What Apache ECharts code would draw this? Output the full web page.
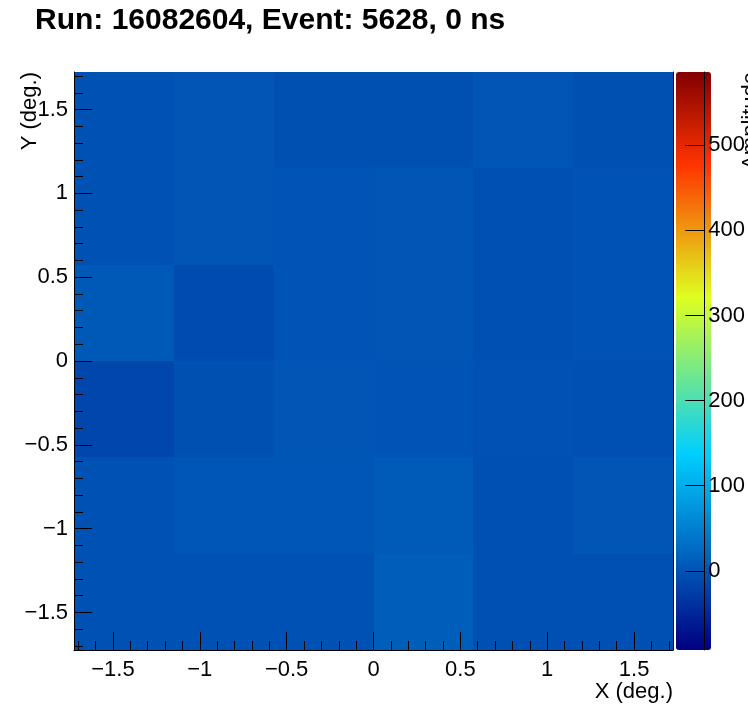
<!DOCTYPE html>
<html><head><meta charset="utf-8">
<script src="https://cdn.jsdelivr.net/npm/echarts@6/dist/echarts.min.js"></script>
<style>html,body{margin:0;padding:0;background:#fff}#c{width:748px;height:724px}</style>
</head><body><div id="c"></div>
<script>
// ---- data ----
const titleText = 'Run: 16082604, Event: 5628, 0 ns';
const xTitle = 'X (deg.)';
const yTitle = 'Y (deg.)';
const zTitle = 'Amplitude';
const xEdges = [-1.724, -1.149, -0.575, 0, 0.575, 1.149, 1.724];
const yEdgesTopDown = [1.724, 1.149, 0.575, 0, -0.575, -1.149, -1.724];
// amplitude per cell, rows from top (high Y) to bottom, columns from left (low X) to right
const amplitudeRows = [
  [-2, 2, -4, -4, 2, -4],
  [-2, 2, 1, 2, -5, 0],
  [5, -9, 1, 2, -5, 0],
  [-15, -4, 2, 1, -3, -5],
  [-2, 3, 3, 8, -5, 2],
  [-2, -2, -2, 12, -5, -5]
];
const xMajorTicks = [-1.5, -1, -0.5, 0, 0.5, 1, 1.5];
const yMajorTicks = [-1.5, -1, -0.5, 0, 0.5, 1, 1.5];
const minorTicks = [-1.7,-1.6,-1.4,-1.3,-1.2,-1.1,-0.9,-0.8,-0.7,-0.6,-0.4,-0.3,-0.2,-0.1,
  0.1,0.2,0.3,0.4,0.6,0.7,0.8,0.9,1.1,1.2,1.3,1.4,1.6,1.7];
const zTicks = [0, 100, 200, 300, 400, 500];
const zMin = -93, zMax = 586;

// ---- palette (ROOT-like jet) ----
const palStops = [0, 0.34, 0.61, 0.84, 1];
const palRGB = [[0,0,130],[0,207,255],[222,255,31],[255,51,0],[130,0,0]];
function palAt(t){
  for (let i = 0; i < palStops.length - 1; i++) {
    if (t <= palStops[i+1]) {
      const f = (t - palStops[i]) / (palStops[i+1] - palStops[i]);
      const c = palRGB[i].map((a, k) => Math.round(a + (palRGB[i+1][k] - a) * f));
      return 'rgb(' + c.join(',') + ')';
    }
  }
  return 'rgb(' + palRGB[palRGB.length-1].join(',') + ')';
}
const palette = [];
for (let i = 0; i <= 200; i++) palette.push(palAt(i / 200));

const cells = [];
amplitudeRows.forEach((row, i) => row.forEach((v, j) => {
  cells.push([xEdges[j], xEdges[j+1], yEdgesTopDown[i+1], yEdgesTopDown[i], v]);
}));

const FONT = 'Liberation Sans';
const fmt = v => String(v).replace('-', '\u2212');
const black = '#000';

const chart = echarts.init(document.getElementById('c'), null, {renderer: 'canvas'});
chart.setOption({
  backgroundColor: '#fff',
  animation: false,
  textStyle: {fontFamily: FONT},
  title: {
    text: titleText, left: 35, top: 6, padding: 0,
    textStyle: {fontFamily: FONT, fontSize: 30, fontWeight: 'bold', color: black}
  },
  grid: [
    {left: 74, top: 72, width: 599, height: 578, containLabel: false},
    {left: 676, top: 72, width: 35, height: 578, containLabel: false}
  ],
  xAxis: [
    {gridIndex: 0, type: 'value', min: xEdges[0], max: xEdges[6], z: 10,
      axisLine: {show: true, onZero: false, lineStyle: {color: black, width: 1}},
      axisTick: {show: true, inside: true, length: 18, customValues: xMajorTicks, lineStyle: {color: black}},
      axisLabel: {show: true, customValues: xMajorTicks, formatter: fmt, margin: 9,
        fontSize: 22, color: black, fontFamily: FONT},
      splitLine: {show: false}},
    {gridIndex: 0, type: 'value', min: xEdges[0], max: xEdges[6], z: 10, position: 'bottom',
      axisLine: {show: false, onZero: false},
      axisTick: {show: true, inside: true, length: 9, customValues: minorTicks, lineStyle: {color: black}},
      axisLabel: {show: false}, splitLine: {show: false}},
    {gridIndex: 1, type: 'value', min: 0, max: 1, show: false}
  ],
  yAxis: [
    {gridIndex: 0, type: 'value', min: yEdgesTopDown[6], max: yEdgesTopDown[0], z: 10,
      axisLine: {show: true, onZero: false, lineStyle: {color: black, width: 1}},
      axisTick: {show: true, inside: true, length: 18, customValues: yMajorTicks, lineStyle: {color: black}},
      axisLabel: {show: true, customValues: yMajorTicks, formatter: fmt, margin: 6,
        fontSize: 22, color: black, fontFamily: FONT},
      splitLine: {show: false}},
    {gridIndex: 0, type: 'value', min: yEdgesTopDown[6], max: yEdgesTopDown[0], z: 10, position: 'left',
      axisLine: {show: false, onZero: false},
      axisTick: {show: true, inside: true, length: 9, customValues: minorTicks, lineStyle: {color: black}},
      axisLabel: {show: false}, splitLine: {show: false}},
    {gridIndex: 0, type: 'value', min: yEdgesTopDown[6], max: yEdgesTopDown[0], z: 10, position: 'right',
      axisLine: {show: true, onZero: false, lineStyle: {color: black, width: 1}},
      axisTick: {show: false}, axisLabel: {show: false}, splitLine: {show: false}},
    {gridIndex: 1, type: 'value', min: zMin, max: zMax, z: 10, position: 'right',
      axisLine: {show: true, onZero: false, lineStyle: {color: black, width: 1}},
      axisTick: {show: true, inside: true, length: 19, customValues: zTicks, lineStyle: {color: black}},
      axisLabel: {show: true, customValues: zTicks, margin: 4, fontSize: 22, color: black, fontFamily: FONT},
      splitLine: {show: false}}
  ],
  visualMap: {
    type: 'continuous', show: true, seriesIndex: 0, dimension: 4,
    min: zMin, max: zMax, calculable: false, realtime: false,
    orient: 'vertical', left: 676, top: 72, padding: 0,
    itemWidth: 35, itemHeight: 578, text: null, showLabel: false,
    inRange: {color: palette}
  },
  graphic: [
    {type: 'text', x: 673, y: 692, z: 20,
      style: {text: xTitle, align: 'right', verticalAlign: 'middle', fontSize: 22, fontFamily: FONT, fill: black}},
    {type: 'text', x: 30, y: 72, rotation: Math.PI / 2, z: 20,
      style: {text: yTitle, align: 'right', verticalAlign: 'middle', fontSize: 22, fontFamily: FONT, fill: black}},
    {type: 'text', x: 751, y: 72, rotation: Math.PI / 2, z: 20,
      style: {text: zTitle, align: 'right', verticalAlign: 'middle', fontSize: 22, fontFamily: FONT, fill: black}}
  ],
  series: [{
    type: 'custom', coordinateSystem: 'cartesian2d', xAxisIndex: 0, yAxisIndex: 0,
    encode: {x: [0, 1], y: [2, 3]},
    data: cells,
    renderItem: function (params, api) {
      const p1 = api.coord([api.value(0), api.value(3)]);
      const p2 = api.coord([api.value(1), api.value(2)]);
      const x0 = Math.round(p1[0]), y0 = Math.round(p1[1]);
      const x1 = Math.round(p2[0]), y1 = Math.round(p2[1]);
      return {type: 'rect',
        shape: {x: x0, y: y0, width: x1 - x0, height: y1 - y0},
        style: {fill: api.visual('color'), stroke: null}};
    }
  }]
});
</script></body></html>
